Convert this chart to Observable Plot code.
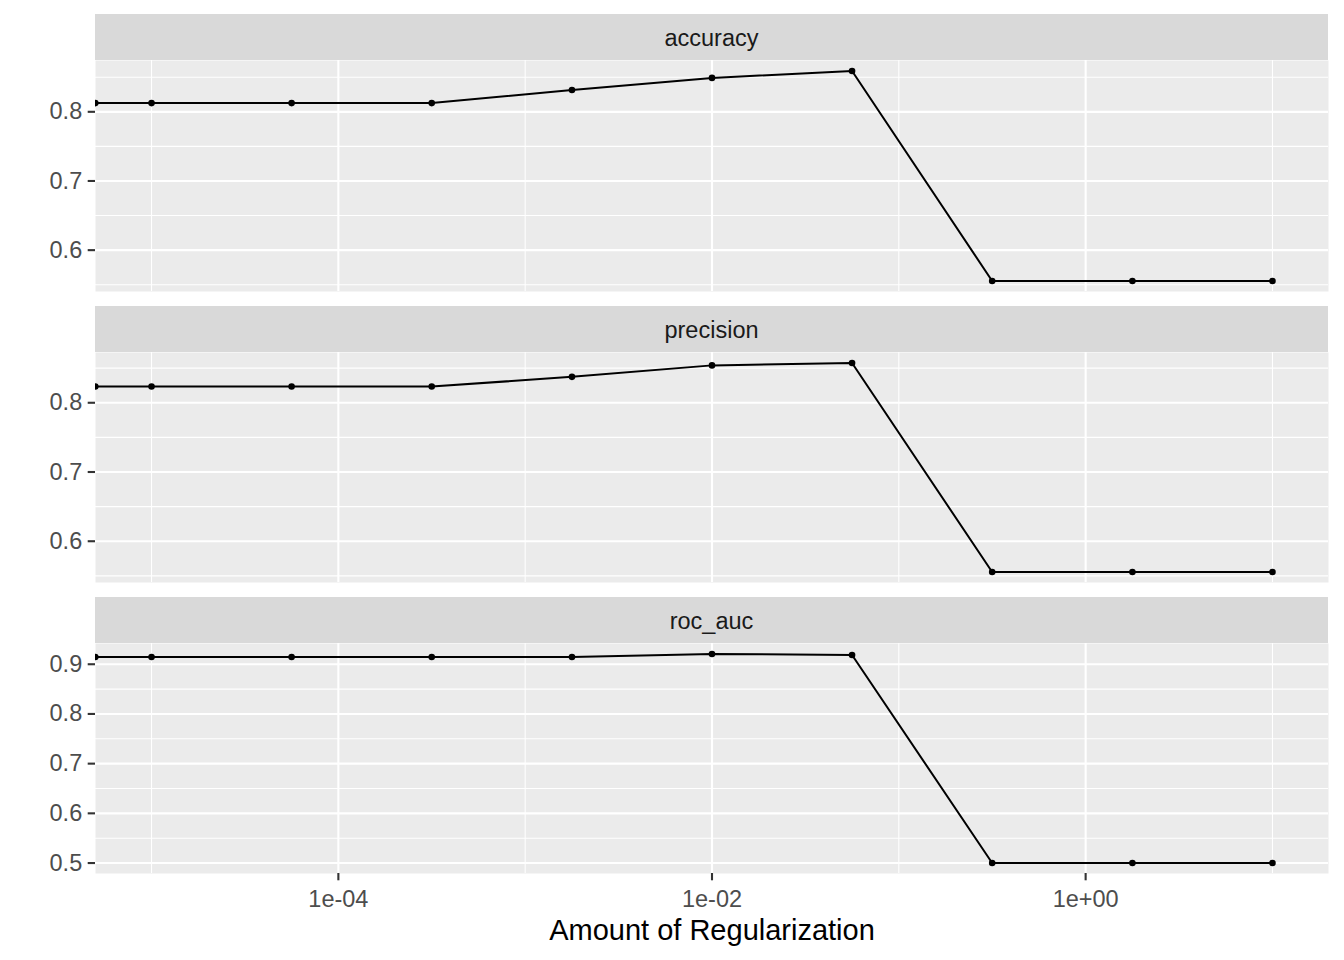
<!DOCTYPE html>
<html>
<head>
<meta charset="utf-8">
<script src="https://cdn.jsdelivr.net/npm/d3@7"></script>
<script src="https://cdn.jsdelivr.net/npm/@observablehq/plot@0.6"></script>
<style>
  body { margin: 0; background: #ffffff; }
  #chart { position: relative; width: 1344px; height: 960px; font-family: "Liberation Sans", Arial, sans-serif; overflow: hidden; }
  .strip { position: absolute; left: 95px; width: 1233px; height: 46px; background: #D9D9D9; color: #1A1A1A;
           font-size: 23.5px; line-height: 48px; text-align: center; }
  .panel { position: absolute; left: 0; }
</style>
</head>
<body>
<div id="chart"></div>
<script>
// ---- data ----
const penalty   = [5.0e-6, 1e-5, 5.62e-5, 3.16e-4, 1.78e-3, 1e-2, 5.62e-2, 0.316, 1.78, 10];
const accuracy  = [0.8126, 0.8126, 0.8126, 0.8126, 0.8315, 0.8490, 0.8590, 0.5554, 0.5554, 0.5554];
const precision = [0.8235, 0.8235, 0.8235, 0.8235, 0.8374, 0.8540, 0.8575, 0.5555, 0.5555, 0.5555];
const roc_auc   = [0.9147, 0.9147, 0.9147, 0.9147, 0.9147, 0.9207, 0.9187, 0.5000, 0.5000, 0.5000];
const metricNames = ["accuracy", "precision", "roc_auc"];

const xMajor = [1e-4, 1e-2, 1];
const xMinor = [1e-5, 1e-3, 1e-1, 10];
const xTickLabels = ["1e-04", "1e-02", "1e+00"];
const xDomain = [Math.pow(10, -5.3), Math.pow(10, 1.3)];
const xTitle = "Amount of Regularization";

const yMajorAccuracy  = [0.6, 0.7, 0.8];
const yMinorAccuracy  = [0.55, 0.65, 0.75, 0.85];
const yMajorPrecision = [0.6, 0.7, 0.8];
const yMinorPrecision = [0.55, 0.65, 0.75, 0.85];
const yMajorRoc = [0.5, 0.6, 0.7, 0.8, 0.9];
const yMinorRoc = [0.55, 0.65, 0.75, 0.85];

// ---- layout ----
const chart = document.getElementById("chart");
const layout = [
  {stripTop: 14,  plotTop: 60,  h: 231},
  {stripTop: 306, plotTop: 352, h: 230},
  {stripTop: 597, plotTop: 643, h: 230}
];
const series = [accuracy, precision, roc_auc];
const majors = [yMajorAccuracy, yMajorPrecision, yMajorRoc];
const minors = [yMinorAccuracy, yMinorPrecision, yMinorRoc];

metricNames.forEach((name, k) => {
  const L = layout[k];
  const last = k === metricNames.length - 1;
  const values = series[k];
  const data = penalty.map((p, i) => ({penalty: p, value: values[i]}));
  const [lo, hi] = d3.extent(values);
  const pad = (hi - lo) * 0.05;

  const strip = document.createElement("div");
  strip.className = "strip";
  strip.style.top = L.stripTop + "px";
  strip.textContent = name;
  chart.appendChild(strip);

  const marks = [
    Plot.frame({fill: "#EBEBEB", stroke: null}),
    Plot.gridY(minors[k], {stroke: "#ffffff", strokeOpacity: 1, strokeWidth: 1.07}),
    Plot.gridX(xMinor, {stroke: "#ffffff", strokeOpacity: 1, strokeWidth: 1.07}),
    Plot.gridY(majors[k], {stroke: "#ffffff", strokeOpacity: 1, strokeWidth: 2.13}),
    Plot.gridX(xMajor, {stroke: "#ffffff", strokeOpacity: 1, strokeWidth: 2.13}),
    Plot.axisY(majors[k], {
      tickSize: 7.3, tickPadding: 6, strokeWidth: 2.1, color: "#4D4D4D", stroke: "#333333", fill: "#4D4D4D",
      fontSize: 23.5, tickFormat: d3.format(".1f"), label: null
    }),
    Plot.line(data, {x: "penalty", y: "value", stroke: "#000000", strokeWidth: 2, clip: true}),
    Plot.dot(data, {x: "penalty", y: "value", r: 3.3, fill: "#000000", stroke: null, clip: true})
  ];
  if (last) {
    marks.push(Plot.axisX(xMajor, {
      tickSize: 7.3, tickPadding: 10, strokeWidth: 2.1, color: "#4D4D4D", stroke: "#333333", fill: "#4D4D4D",
      fontSize: 23.5, tickFormat: (d, i) => xTickLabels[xMajor.indexOf(d)], label: null
    }));
    marks.push(Plot.text([xTitle], {frameAnchor: "bottom", dy: 57, lineAnchor: "middle", fontSize: 29, fill: "#000000"}));
  }

  const svg = Plot.plot({
    width: 1344,
    height: L.h + (last ? 87 : 0),
    marginLeft: 95,
    marginRight: 16,
    marginTop: 0,
    marginBottom: last ? 87 : 0,
    style: {fontFamily: "Liberation Sans, Arial, sans-serif", fontSize: "23.5px", background: "transparent", overflow: "visible"},
    x: last ? {type: "log", domain: xDomain} : {type: "log", domain: xDomain, axis: null},
    y: {domain: [lo - pad, hi + pad], label: null},
    marks
  });
  const wrap = document.createElement("div");
  wrap.className = "panel";
  wrap.style.top = L.plotTop + "px";
  wrap.appendChild(svg);
  chart.appendChild(wrap);
});
</script>
</body>
</html>
